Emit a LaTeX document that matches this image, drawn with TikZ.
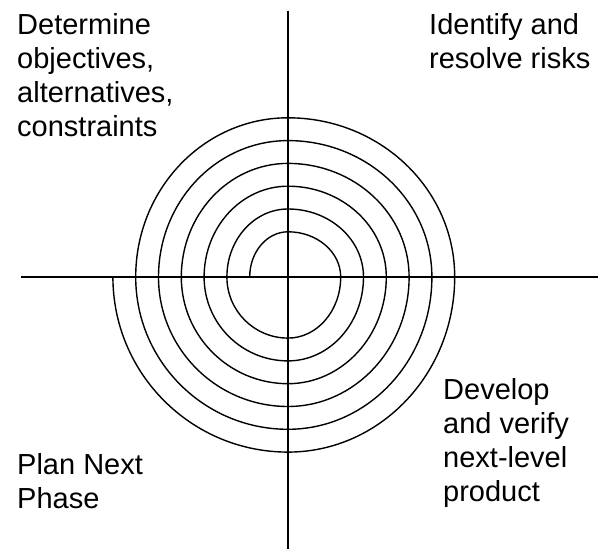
\documentclass[tikz,border=0pt]{standalone}
\usepackage{fontspec}
\setmainfont{Liberation Sans}
\begin{document}
\begin{tikzpicture}[x=1pt,y=1pt,
  axis/.style={line width=1.4pt},
  spiral/.style={line width=1.4pt},
  label/.style={anchor=base west, align=left, inner sep=0pt, font=\fontsize{29}{34}\selectfont}]
\useasboundingbox (0,0) rectangle (598,549);
% axes
\coordinate (top) at (288,538);
\coordinate (bot) at (288,0);
\coordinate (lft) at (21,272);
\coordinate (rgt) at (598,272);
\draw[axis] (top) -- (bot);
\draw[axis] (lft) -- (rgt);
% spiral
\coordinate (c) at (288,272);
\coordinate (s) at (249.7,272);
\draw[spiral] (s)
  arc[start angle=180,end angle=90,x radius=38.3,y radius=45.2]
  arc[start angle=90,end angle=0,x radius=52.7,y radius=45.2]
  arc[start angle=0,end angle=-90,x radius=52.7,y radius=61.1]
  arc[start angle=-90,end angle=-180,x radius=61.1,y radius=61.1]
  arc[start angle=180,end angle=90,x radius=61.1,y radius=68.0]
  arc[start angle=90,end angle=0,x radius=75.5,y radius=68.0]
  arc[start angle=0,end angle=-90,x radius=75.5,y radius=83.9]
  arc[start angle=-90,end angle=-180,x radius=83.9,y radius=83.9]
  arc[start angle=180,end angle=90,x radius=83.9,y radius=90.8]
  arc[start angle=90,end angle=0,x radius=98.3,y radius=90.8]
  arc[start angle=0,end angle=-90,x radius=98.3,y radius=106.7]
  arc[start angle=-90,end angle=-180,x radius=106.7,y radius=106.7]
  arc[start angle=180,end angle=90,x radius=106.7,y radius=113.6]
  arc[start angle=90,end angle=0,x radius=121.1,y radius=113.6]
  arc[start angle=0,end angle=-90,x radius=121.1,y radius=129.5]
  arc[start angle=-90,end angle=-180,x radius=129.5,y radius=129.5]
  arc[start angle=180,end angle=90,x radius=129.5,y radius=136.4]
  arc[start angle=90,end angle=0,x radius=143.9,y radius=136.4]
  arc[start angle=0,end angle=-90,x radius=143.9,y radius=152.3]
  arc[start angle=-90,end angle=-180,x radius=152.3,y radius=152.3]
  arc[start angle=180,end angle=90,x radius=152.3,y radius=159.2]
  arc[start angle=90,end angle=0,x radius=166.7,y radius=159.2]
  arc[start angle=0,end angle=-90,x radius=166.7,y radius=175.1]
  arc[start angle=-90,end angle=-180,x radius=175.1,y radius=175.1];
% labels (anchored at the baseline of the last line)
\node[label] (q1) at (17,412) {Determine\\objectives,\\alternatives,\\constraints};
\node[label] (q2) at (429,480) {Identify and\\resolve risks};
\node[label] (q3) at (443,47) {Develop\\and verify\\next-level\\product};
\node[label] (q4) at (17,40) {Plan Next\\Phase};
\end{tikzpicture}
\end{document}
